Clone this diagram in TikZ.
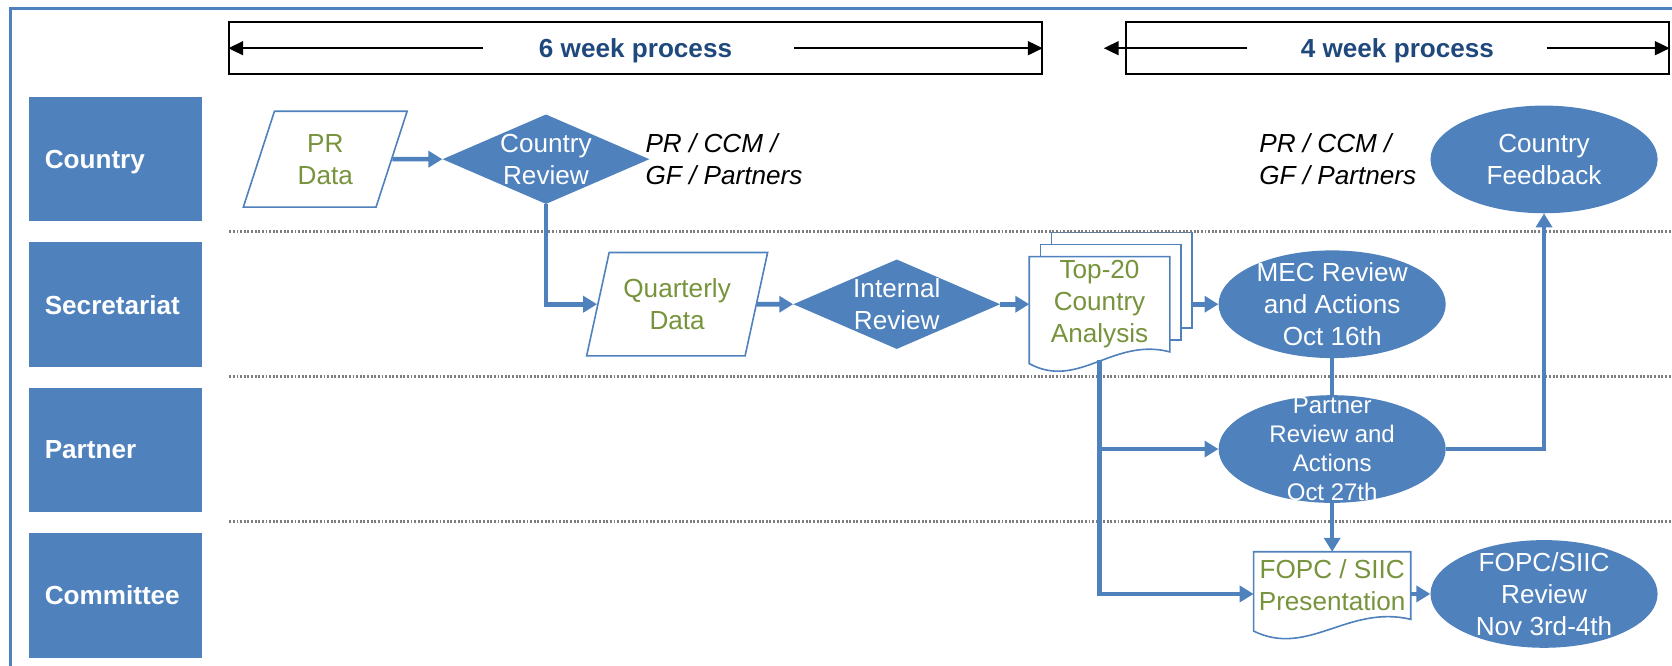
\documentclass[tikz,border=0pt]{standalone}
\usepackage{fontspec}
\setmainfont{Liberation Sans}
\usetikzlibrary{arrows.meta, positioning, shapes.geometric, backgrounds}
\definecolor{OfficeBlue}{RGB}{79,129,189}
\definecolor{OliveGreen}{RGB}{119,147,60}
\definecolor{NavyText}{RGB}{31,73,125}
\definecolor{RuleGray}{RGB}{125,125,125}

\begin{document}
\begin{tikzpicture}[x=1pt, y=-1pt,
    lane/.style={fill=OfficeBlue, text=white, font=\fontsize{24.5}{30}\selectfont\bfseries,
        text width=132pt, inner xsep=15pt, inner ysep=0pt, align=left,
        text depth=0pt, minimum height=117pt},
    span/.style={draw=black, line width=1.8pt, minimum height=49pt, text depth=0pt,
        text=NavyText, font=\fontsize{24.5}{30}\selectfont\bfseries},
    spanarrow/.style={-{Triangle[length=14pt, width=13pt]}, line width=1.9pt, black},
    lanesep/.style={draw=RuleGray, line width=2.2pt, dash pattern=on 1.8pt off 1.6pt},
    iodata/.style={trapezium, trapezium left angle=71.5, trapezium right angle=108.5,
        trapezium stretches=true, draw=OfficeBlue, line width=1.5pt, fill=white,
        inner sep=2pt, align=center, text=OliveGreen,
        font=\fontsize{24.5}{30}\selectfont},
    decision/.style={diamond, fill=OfficeBlue, inner sep=1pt,
        minimum width=194pt, minimum height=84pt},
    event/.style={ellipse, fill=OfficeBlue, inner sep=1pt,
        minimum width=213pt, minimum height=101pt},
    doc/.style={inner sep=0pt, align=center, text=OliveGreen,
        font=\fontsize{24.5}{30}\selectfont},
    page/.style={draw=OfficeBlue, line width=1.5pt, fill=white},
    intxt/.style={align=center, text=white, font=\fontsize{24.5}{30}\selectfont},
    note/.style={align=left, inner sep=0pt, font=\fontsize{24.5}{30}\selectfont\itshape},
    flow/.style={-{Triangle[length=13pt, width=15pt]}, line width=4.3pt, OfficeBlue},
    link/.style={line width=4.3pt, OfficeBlue},
]

\useasboundingbox (0,0) rectangle (1568,624);

% frame
\draw[OfficeBlue, line width=3pt] (10,640) -- (10,8) -- (1600,8);

% lanes
\node[lane] (country) at (108,149.2) {Country};
\node[lane, below=19pt of country] (secretariat) {Secretariat};
\node[lane, below=19pt of secretariat] (partnerlane) {Partner};
\node[lane, below=19pt of partnerlane] (committee) {Committee};

\foreach \y in {217,353,489}
    \draw[lanesep] (215,\y) -- (1568,\y);

% time spans
\node[span, minimum width=762pt] (wk6) at (596,45.2) {6 week process};
\node[span, minimum width=509pt] (wk4) at (1310.5,45.2) {4 week process};
\draw[spanarrow] ([xshift=-143pt]wk6.center) -- (wk6.west);
\draw[spanarrow] ([xshift=149pt]wk6.center) -- (wk6.east);
\draw[spanarrow] ([xshift=-141pt]wk4.center) -- ([xshift=-20pt]wk4.west);
\draw[spanarrow] ([xshift=140pt]wk4.center) -- (wk4.east);

% country row
\node[iodata, minimum width=154pt, minimum height=90pt] (prdata) at (305,149.3)
    {PR\\Data};
\node[decision, label={[intxt]center:Country\\Review}] (crev) at (512,149.3) {};
\node[note, right=-4pt of crev] (crevnote) {PR / CCM /\\GF / Partners};
\node[event, label={[intxt]center:Country\\Feedback}] (cfeed) at (1448,149.5) {};
\node[note, left=13pt of cfeed] (cfeednote) {PR / CCM /\\GF / Partners};

% secretariat row
\node[iodata, minimum width=170pt, minimum height=97pt] (qdata) at (635,285.3)
    {Quarterly\\Data};
\node[decision, label={[intxt]center:Internal\\Review}] (irev) at (841,285.3) {};
\node[doc, minimum width=131.5pt, minimum height=89pt, right=27pt of irev] (top20)
    {Top-20\\Country\\Analysis};
\node[event, right=45.5pt of top20,
      label={[intxt]center:MEC Review\\and Actions\\Oct 16th}] (mec) {};

% partner and committee rows
\node[event, below=34.4pt of mec,
      label={[intxt, font=\fontsize{22.5}{27}\selectfont]center:Partner\\Review and\\Actions\\Oct 27th}] (partner) {};
\node[doc, minimum width=147pt, minimum height=63pt, below=45.6pt of partner] (fopc)
    {FOPC / SIIC\\Presentation};
\node[event, label={[intxt]center:FOPC/SIIC\\Review\\Nov 3rd-4th}] (fsrev) at (1448,557) {};

% document outlines
\begin{scope}[on background layer]
\foreach \s in {2,1}
    \draw[page] ([xshift=\s*10.5pt, yshift=\s*11.3pt]top20.south west) rectangle
        ([xshift=\s*10.5pt, yshift=\s*11.3pt]top20.north east);
\draw[page] (top20.south east) .. controls ([xshift=-53pt, yshift=14pt]top20.south east)
    and ([xshift=46pt, yshift=-36pt]top20.south west) .. ([yshift=-11pt]top20.south west)
    -- (top20.north west) -- (top20.north east) -- cycle;
\draw[page] (fopc.south east) .. controls ([xshift=-59pt, yshift=14pt]fopc.south east)
    and ([xshift=51pt, yshift=-36pt]fopc.south west) .. ([yshift=-11pt]fopc.south west)
    -- (fopc.north west) -- (fopc.north east) -- cycle;
\end{scope}

% connectors
\draw[flow] (prdata) -- (crev);
\draw[flow] (crev.south) |- (qdata.west);
\draw[flow] (qdata) -- (irev);
\draw[flow] (irev) -- (top20);
\draw[flow] ([xshift=21pt]top20.east) -- (mec);
\draw[link] (mec) -- (partner);
\draw[flow] (partner.east) -| (cfeed.south);
\draw[flow] (partner) -- (fopc);
\coordinate (drop) at ([yshift=-8pt]top20.south);
\draw[flow] (drop) |- (fopc.west |- fsrev.west);
\draw[flow] (drop |- partner.west) -- (partner.west);
\draw[flow] (fopc.east |- fsrev.west) -- (fsrev);

\end{tikzpicture}
\end{document}
